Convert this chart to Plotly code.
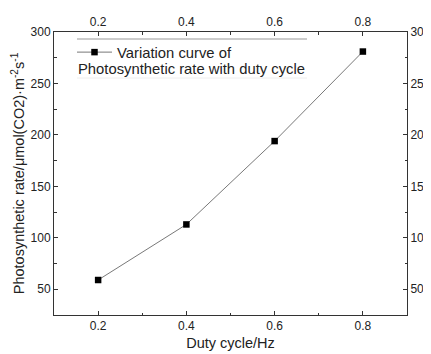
import plotly.graph_objects as go

duty_cycle = [0.2, 0.4, 0.6, 0.8]
photo_rate = [59, 113, 194, 281]
x_ticks = [0.2, 0.4, 0.6, 0.8]
y_ticks = [50, 100, 150, 200, 250, 300]

FONT = "Liberation Sans, Arial, sans-serif"
BODY = 8  # default page body margin of the written html

fig = go.Figure()
fig.add_trace(go.Scatter(
    x=duty_cycle, y=photo_rate, mode="lines+markers",
    name="Variation curve of",
    line=dict(color="#555555", width=0.8),
    marker=dict(symbol="square", size=6.5, color="black"),
))
fig.add_trace(go.Scatter(
    x=duty_cycle, y=photo_rate, xaxis="x2", yaxis="y2", mode="markers",
    marker=dict(opacity=0), showlegend=False, hoverinfo="skip",
))

def axis(minor_dtick, minor_tick0, **kw):
    d = dict(
        showgrid=False, zeroline=False, showline=True, linecolor="#333333", linewidth=1,
        ticks="inside", ticklen=4, tickcolor="#333333", automargin=False,
        tickfont=dict(family=FONT, size=12, color="#222222"),
        minor=dict(ticks="inside", ticklen=2.5, tickcolor="#333333", dtick=minor_dtick, tick0=minor_tick0),
    )
    d.update(kw)
    return d

fig.update_layout(
    width=431, height=354,
    margin=dict(l=54 - BODY, r=24 + BODY, t=32 - BODY, b=39 + BODY),
    paper_bgcolor="white", plot_bgcolor="white",
    font=dict(family=FONT, color="#222222"),
    xaxis=axis(0.1, 0.1, range=[0.1, 0.9], tickvals=x_ticks, ticktext=[str(v) for v in x_ticks],
               title=dict(text="Duty cycle/Hz", font=dict(family=FONT, size=14.5), standoff=5)),
    xaxis2=axis(0.1, 0.1, range=[0.1, 0.9], tickvals=x_ticks, ticktext=[str(v) for v in x_ticks],
                overlaying="x", side="top", matches="x"),
    yaxis=axis(25, 25, range=[25, 300], tickvals=y_ticks,
               title=dict(text="Photosynthetic rate/μmol(CO2)·m<sup>-2</sup>s<sup>-1</sup>",
                          font=dict(family=FONT, size=14.5), standoff=2)),
    yaxis2=axis(25, 25, range=[25, 300], tickvals=y_ticks, overlaying="y", side="right", matches="y"),
    legend=dict(x=(72 - 54) / 353, y=(315 - 36) / 283, xanchor="left", yanchor="top",
                bgcolor="rgba(0,0,0,0)", font=dict(family=FONT, size=14.8, color="#222222"),
                itemwidth=35, tracegroupgap=0),
    showlegend=True,
)

fig.add_annotation(text="Photosynthetic rate with duty cycle", xref="paper", yref="paper",
                   x=(76 - 54) / 353, y=(315 - 69) / 283, xanchor="left", yanchor="middle",
                   showarrow=False, font=dict(family=FONT, size=14.8, color="#222222"))
fig.add_shape(type="line", xref="paper", yref="paper",
              x0=(77 - 54) / 353, x1=(307 - 54) / 353, y0=(315 - 39) / 283, y1=(315 - 39) / 283,
              line=dict(color="#999999", width=1))
fig.add_shape(type="line", xref="paper", yref="paper",
              x0=(77 - 54) / 353, x1=(307 - 54) / 353, y0=(315 - 78) / 283, y1=(315 - 78) / 283,
              line=dict(color="#eeeeee", width=1))

fig.write_html("out.html")
